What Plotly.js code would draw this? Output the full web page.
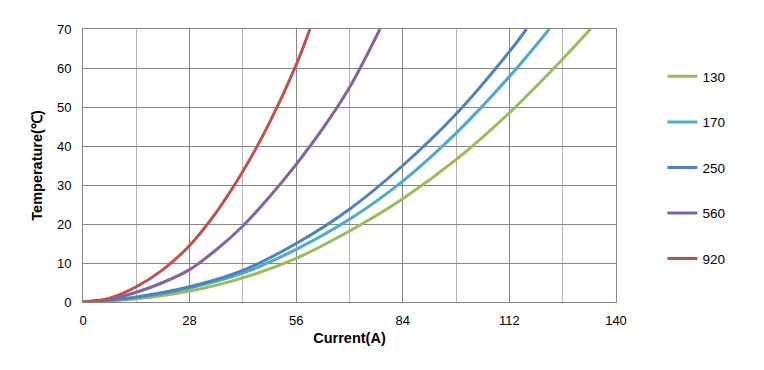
<!DOCTYPE html>
<html>
<head>
<meta charset="utf-8">
<script src="https://cdn.plot.ly/plotly-3.0.1.min.js"></script>
<style>html,body{margin:0;padding:0;background:#fff;}#chart{width:764px;height:370px;}</style>
</head>
<body>
<div id="chart"></div>
<script>
const seriesNames = ["130", "170", "250", "560", "920"];
const seriesColors = ["#9BBB59", "#4BACC6", "#4F81BD", "#8064A2", "#C0504D"];

const x130 = [0, 14, 28, 42, 56, 70, 84, 98, 112, 126, 133.3];
const y130 = [0, 0.8, 2.8, 6.2, 11.2, 18.2, 26.5, 36.5, 48.5, 62.3, 70];

const x170 = [0, 14, 28, 42, 56, 70, 84, 98, 112, 122.5];
const y170 = [0, 1.1, 3.6, 7.4, 13.5, 21.2, 31.0, 43.3, 57.8, 70];

const x250 = [0, 14, 28, 42, 56, 70, 84, 98, 112, 116.5];
const y250 = [0, 1.3, 3.9, 8.1, 15.0, 23.8, 35.0, 48.2, 64.2, 70];

const x560 = [0, 7, 14, 21, 28, 35, 42, 49, 56, 63, 70, 78.0];
const y560 = [0, 0.7, 2.5, 5.0, 8.3, 13.4, 19.5, 27.0, 35.3, 44.5, 55.0, 70];

const x920 = [0, 7, 14, 21, 28, 35, 42, 49, 56, 59.6];
const y920 = [0, 1.0, 3.9, 8.3, 14.5, 23.0, 33.5, 46.0, 60.8, 70];

const xTicks = [0, 28, 56, 84, 112, 140];
const yTicks = [0, 10, 20, 30, 40, 50, 60, 70];

const xs = [x130, x170, x250, x560, x920];
const ys = [y130, y170, y250, y560, y920];

const traces = seriesNames.map((n, i) => ({
  x: xs[i], y: ys[i], name: n, type: 'scatter', mode: 'lines',
  line: {color: seriesColors[i], width: 3, shape: 'spline', smoothing: 1},
  legendgroup: 'g' + i
}));

const fam = 'Liberation Sans, Arial, sans-serif';
const font = {family: fam, size: 13, color: '#000'};

const layout = {
  width: 764, height: 370,
  margin: {l: 83, r: 148, t: 29, b: 68},
  paper_bgcolor: '#fff', plot_bgcolor: '#fff',
  font: font,
  showlegend: true,
  legend: {
    xref: 'container', yref: 'container',
    x: 0.867, y: 0.835, xanchor: 'left', yanchor: 'top',
    traceorder: 'grouped', tracegroupgap: 25,
    maxheight: 340,
    font: {family: fam, size: 13.5, color: '#000'},
    bgcolor: 'rgba(0,0,0,0)'
  },
  xaxis: {
    range: [0, 140], tickvals: xTicks, ticktext: xTicks.map(String),
    showgrid: true, gridcolor: '#868686', gridwidth: 1,
    minor: {dtick: 14, tick0: 0, showgrid: true, gridcolor: '#B4B4B4', gridwidth: 1},
    showline: true, linecolor: '#868686', linewidth: 1, mirror: true,
    zeroline: false, ticks: '', ticklabelstandoff: 6,
    tickfont: {family: fam, size: 13, color: '#000'},
    title: {text: '<b>Current(A)</b>', standoff: 6, font: {family: fam, size: 14.5, color: '#000'}},
    fixedrange: true
  },
  yaxis: {
    range: [0, 70], tickvals: yTicks, ticktext: yTicks.map(String),
    showgrid: true, gridcolor: '#868686', gridwidth: 1,
    showline: true, linecolor: '#868686', linewidth: 1, mirror: true,
    zeroline: false, ticks: '', ticklabelstandoff: 8,
    tickfont: {family: fam, size: 13, color: '#000'},
    title: {text: '<b>Temperature(℃)</b>', standoff: 10, font: {family: fam, size: 14.5, color: '#000'}},
    fixedrange: true
  }
};

Plotly.newPlot('chart', traces, layout, {displayModeBar: false, staticPlot: true});
</script>
</body>
</html>
